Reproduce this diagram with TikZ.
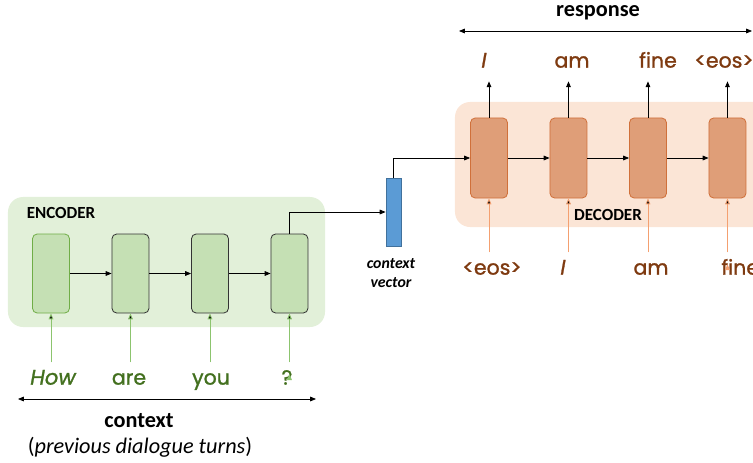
\documentclass[tikz,border=0pt]{standalone}
\usepackage{fontspec}
\setmainfont{Carlito}
\newfontfamily\wordfont{Poppins}[RawFeature={embolden=1.2}]
\usetikzlibrary{positioning,arrows.meta}
\definecolor{encbg}{HTML}{E2F0D9}
\definecolor{enccell}{HTML}{C5E0B4}
\definecolor{encline}{HTML}{70AD47}
\definecolor{encarrow}{HTML}{8CC46E}
\definecolor{encword}{HTML}{43701F}
\definecolor{decbg}{HTML}{FBE5D6}
\definecolor{deccell}{HTML}{DF9E78}
\definecolor{decline}{HTML}{D0703A}
\definecolor{decarrow}{HTML}{F4A070}
\definecolor{decword}{HTML}{7E3A10}
\definecolor{vecfill}{HTML}{5B9BD5}
\definecolor{vecline}{HTML}{41719C}

\begin{document}
\begin{tikzpicture}[x=0.03cm,y=0.03cm,>={Triangle[length=5pt,width=4pt]},line width=0.7pt,node distance=1.25cm,
    enc box/.style={fill=encbg,rounded corners=0.45cm,minimum width=9.51cm,minimum height=3.9cm},
    dec box/.style={fill=decbg,rounded corners=0.45cm,minimum width=9.45cm,minimum height=3.75cm},
    enc cell/.style={draw=black!80,fill=enccell,rounded corners=4pt,minimum width=1.11cm,minimum height=2.37cm},
    dec cell/.style={draw=decline,fill=deccell,rounded corners=4pt,minimum width=1.11cm,minimum height=2.4cm},
    vec node/.style={draw=vecline,fill=vecfill,minimum width=0.45cm,minimum height=2.04cm,inner sep=0pt},
    word/.style={font=\wordfont\fontsize{17.5}{20}\selectfont,inner sep=0pt,text height=1.8ex,text depth=0.5ex},
    slant word/.style={word,font=\wordfont\itshape\fontsize{18}{20}\selectfont},
    title/.style={font=\bfseries\fontsize{19}{22}\selectfont},
    part label/.style={font=\bfseries\fontsize{14.5}{17}\selectfont},
    in arrow/.style={->,shorten <=10pt}]
    \useasboundingbox (0,0) rectangle (753,462);
    \node[enc box] (encbox) at (166.5,200) {};
    \node[dec box] (decbox) at (612.5,297.5) {};
    \node[part label] (enclabel) at (61,249) {ENCODER};
    \node[part label] (declabel) at (608,247) {DECODER};

    \node[enc cell,draw=encline] (e1) at (51,188.5) {};
    \node[enc cell] (e2) [right=of e1] {};
    \node[enc cell] (e3) [right=of e2] {};
    \node[enc cell] (e4) [right=of e3] {};

    \node[dec cell] (d1) at (489,304) {};
    \node[dec cell] (d2) [right=of d1] {};
    \node[dec cell] (d3) [right=of d2] {};
    \node[dec cell] (d4) [right=of d3] {};

    \node[vec node] (cv) at (393.5,250) {};
    \node[font=\bfseries\itshape\fontsize{13.5}{16}\selectfont,align=center] (cvlabel) at (391,189) {context\\vector};

    \node[slant word,text=encword] (w1) at (53,81) {How};
    \node[word,text=encword] (w2) at (129,81) {are};
    \node[word,text=encword] (w3) at (211,81) {you};
    \node[word,text=encword] (w4) at (287,81) {?};

    \node[word,text=decword] (i1) at (492,191) {<eos>};
    \node[slant word,text=decword] (i2) at (563,191) {I};
    \node[word,text=decword] (i3) at (651,191) {am};
    \node[word,text=decword,anchor=west] (i4) at (721,191) {fine};

    \node[slant word,text=decword] (o1) at (484,398) {I};
    \node[word,text=decword] (o2) at (572,398) {am};
    \node[word,text=decword] (o3) at (658,398) {fine};
    \node[word,text=decword] (o4) at (724,398) {<eos>};

    \coordinate (cl) at (18,63);
    \coordinate (cr) at (316,63);
    \coordinate (rl) at (459,431);
    \coordinate (rr) at (752,431);
    \node[title] (ctx) at (139,41) {context};
    \node[font=\fontsize{19}{22}\selectfont] (turns) at (140,15) {(\textit{previous dialogue turns})};
    \node[title] (resp) at (598,449) {response};

    \draw[<->] (cl) -- (cr);
    \draw[<->] (rl) -- (rr);

    \path[->]
        (e1) edge (e2)
        (e2) edge (e3)
        (e3) edge (e4)
        (d1) edge (d2)
        (d2) edge (d3)
        (d3) edge (d4)
        ;
    \draw[->] (e4.north) |- (cv.west);
    \draw[->] (cv.north) |- (d1.west);

    \path[in arrow,draw=encarrow]
        (e1.south |- w1.north) edge (e1.south)
        (e2.south |- w2.north) edge (e2.south)
        (e3.south |- w3.north) edge (e3.south)
        (e4.south |- w4.north) edge (e4.south)
        ;
    \path[in arrow,draw=decarrow]
        (d1.south |- i1.north) edge (d1.south)
        (d2.south |- i2.north) edge (d2.south)
        (d3.south |- i3.north) edge (d3.south)
        (d4.south |- i4.north) edge (d4.south)
        ;
    \path[->,shorten >=9pt]
        (d1.north) edge (d1.north |- o1.south)
        (d2.north) edge (d2.north |- o2.south)
        (d3.north) edge (d3.north |- o3.south)
        (d4.north) edge (d4.north |- o4.south)
        ;
\end{tikzpicture}
\end{document}
